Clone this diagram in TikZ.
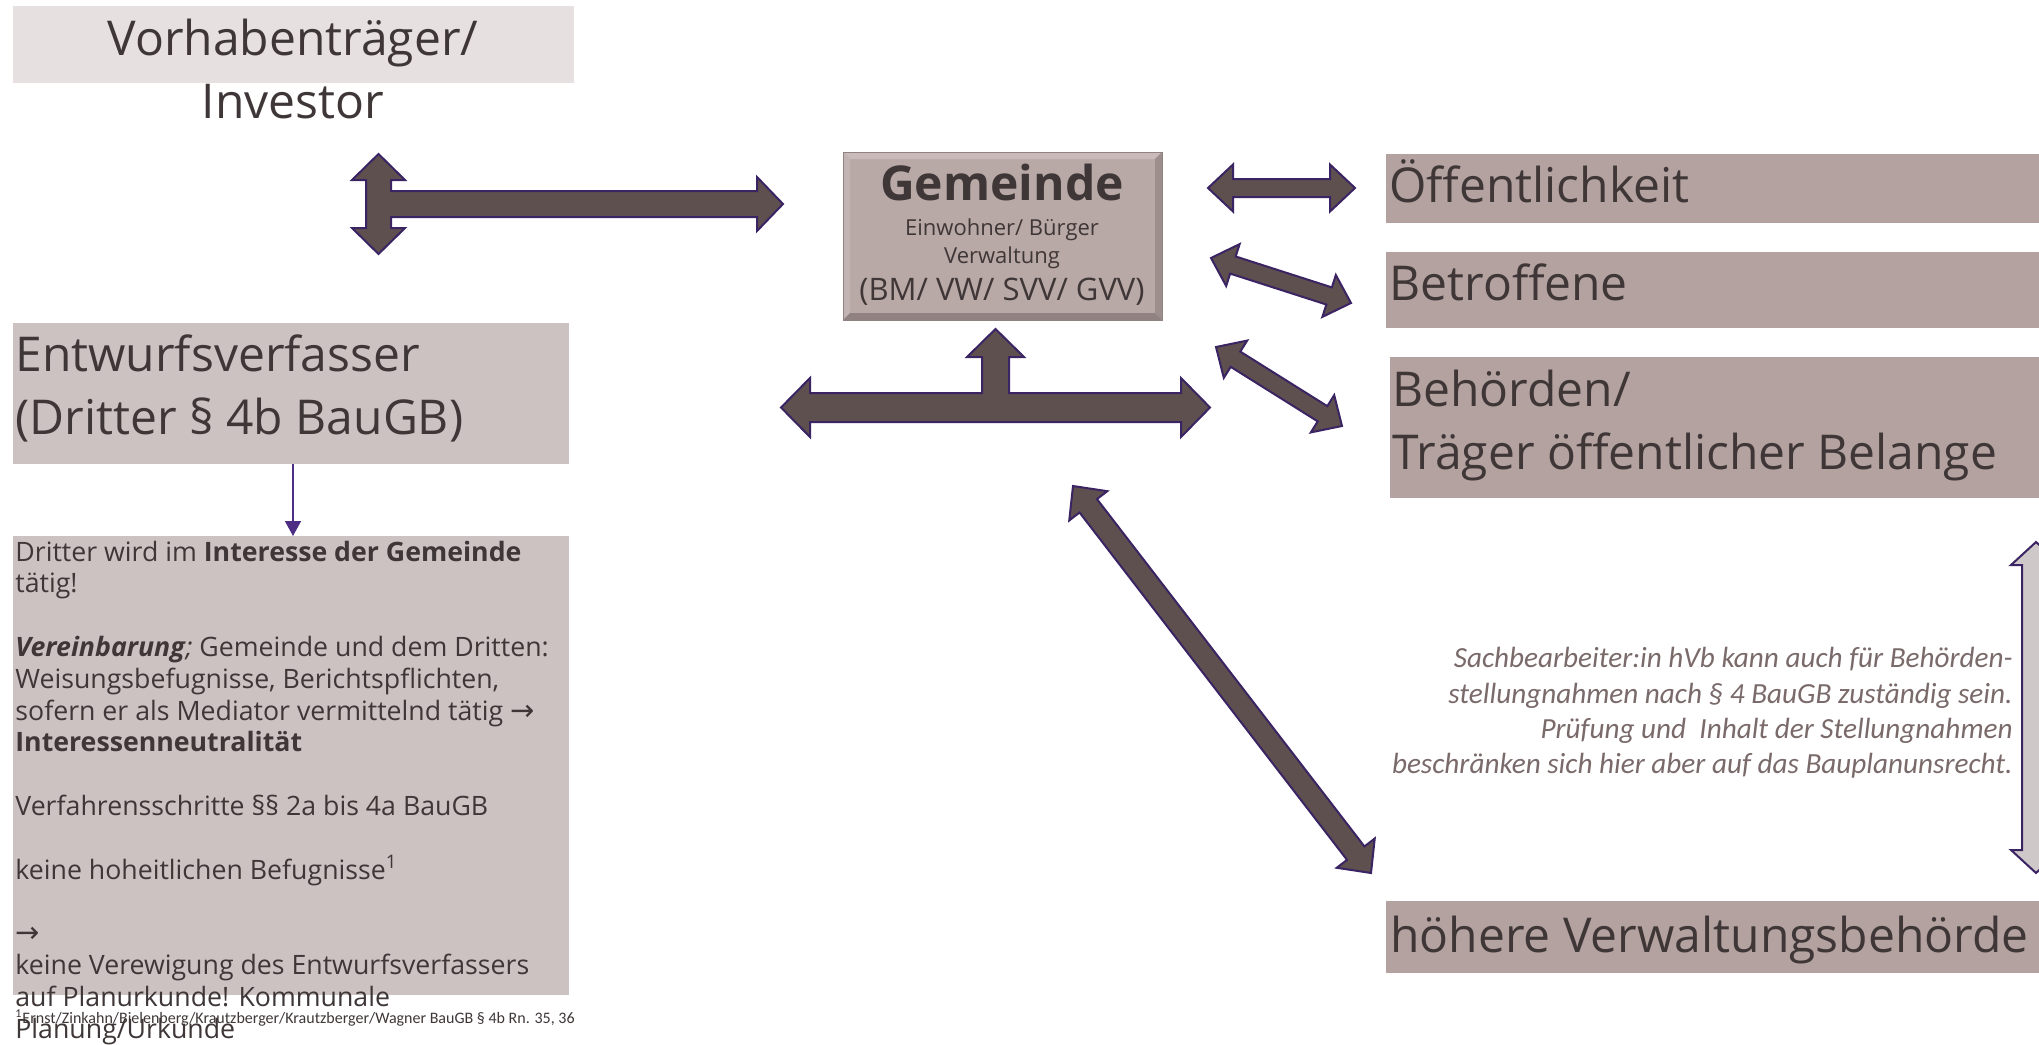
\documentclass[tikz,border=0pt]{standalone}
\usepackage{fontspec}
\setmainfont{Open Sans}
\newfontfamily\carlito{Carlito}
\newfontfamily\dejavu{DejaVu Sans}
\usetikzlibrary{calc,fit,arrows.meta}
\definecolor{txt}{HTML}{3F3737}
\definecolor{boxA}{HTML}{E6E0E0}
\definecolor{boxB}{HTML}{CCC2C1}
\definecolor{boxC}{HTML}{B3A29F}
\definecolor{gem}{HTML}{B8A8A6}
\definecolor{gemlt}{HTML}{C9BBB9}
\definecolor{gemlt2}{HTML}{C2B4B2}
\definecolor{gemdk}{HTML}{8F8280}
\definecolor{gemdk2}{HTML}{9C8E8C}
\definecolor{arrfill}{HTML}{5E504E}
\definecolor{arrline}{HTML}{3A2463}
\definecolor{thinarr}{HTML}{4E2D84}
\definecolor{ital}{HTML}{7A6A6A}
\definecolor{lightarr}{HTML}{CFC8C8}
\tikzset{
 panel/.style={inner sep=0pt, outer sep=0pt, draw=none},
 bigtxt/.style={inner sep=0pt, text=txt, font=\fontsize{24pt}{31.5pt}\selectfont},
 gemtxt/.style={inner sep=0pt, text=txt, anchor=base},
 bodytxt/.style={inner sep=0pt, text=txt, font=\fontsize{13.35pt}{15.9pt}\selectfont, anchor=base west},
 itxt/.style={inner sep=0pt, text=ital, font=\carlito\itshape\fontsize{14.6pt}{17.5pt}\selectfont, anchor=base east},
 barrow/.style={draw=arrline, fill=arrfill, line width=1pt, line join=miter},
 larrow/.style={draw=arrline, fill=lightarr, line width=1pt, line join=miter},
 thinline/.style={draw=thinarr, line width=0.8pt, -{Triangle[length=7.5pt,width=8pt]}},
}
\newcommand{\blockarrow}[6][barrow]{%
 \path[#1] let \p1=(#2), \p2=(#3), \n1={veclen(\x2-\x1,\y2-\y1)}, \n2={atan2(\y2-\y1,\x2-\x1)} in
  (\p1)
  -- ($(\p1)+(\n2:#6)+({\n2+90}:#5)$)
  -- ($(\p1)+(\n2:#6)+({\n2+90}:#4)$)
  -- ($(\p1)+({\n2}:{\n1-#6})+({\n2+90}:#4)$)
  -- ($(\p1)+({\n2}:{\n1-#6})+({\n2+90}:#5)$)
  -- (\p2)
  -- ($(\p1)+({\n2}:{\n1-#6})+({\n2-90}:#5)$)
  -- ($(\p1)+({\n2}:{\n1-#6})+({\n2-90}:#4)$)
  -- ($(\p1)+(\n2:#6)+({\n2-90}:#4)$)
  -- ($(\p1)+(\n2:#6)+({\n2-90}:#5)$)
  -- cycle;
}
\begin{document}
\begin{tikzpicture}[x=0.5pt,y=-0.5pt]
\useasboundingbox[fill=white] (0,0) rectangle (2039,1044);

% panels
\node[panel, fill=boxA, fit={(13,6) (574,83)}] (vorh) {};
\node[panel, fill=boxB, fit={(13,323) (569,464)}] (entw) {};
\node[panel, fill=boxB, fit={(13,536) (569,995)}] (dritt) {};
\node[panel, fill=boxC, fit={(1386,154) (2039,223)}] (oeff) {};
\node[panel, fill=boxC, fit={(1386,252) (2039,328)}] (betr) {};
\node[panel, fill=boxC, fit={(1390,357) (2039,498)}] (behoe) {};
\node[panel, fill=boxC, fit={(1386,901) (2039,973)}] (hvb) {};

% Gemeinde bevel box
\node[panel, fill=gem, fit={(843,152) (1162,320)}] (gem) {};
\fill[gemlt] (843,152) -- (1162,152) -- (1155,159) -- (850,159) -- cycle;
\fill[gemlt2] (843,152) -- (850,159) -- (850,313) -- (843,320) -- cycle;
\fill[gemdk] (843,320) -- (1162,320) -- (1155,313) -- (850,313) -- cycle;
\fill[gemdk2] (1162,152) -- (1162,320) -- (1155,313) -- (1155,159) -- cycle;
\draw[gemdk, line width=0.4pt] (gem.north west) rectangle (gem.south east);

% texts
\node[bigtxt, anchor=base] (vorhA) at (293,55) {Vorhabenträger/};
\node[bigtxt, anchor=base] (vorhB) at (293,118) {Investor};
\node[bigtxt, anchor=base west] (entwA) at (15,371) {Entwurfsverfasser};
\node[bigtxt, anchor=base west] (entwB) at (15,434) {(Dritter § 4b BauGB)};
\node[bigtxt, anchor=base west] (oeffT) at (1389,202) {Öffentlichkeit};
\node[bigtxt, anchor=base west] (betrT) at (1389,300) {Betroffene};
\node[bigtxt, anchor=base west] (behA) at (1392,406) {Behörden/};
\node[bigtxt, anchor=base west] (behB) at (1392,469) {Träger öffentlicher Belange};
\node[bigtxt, anchor=base west] (hvbT) at (1390,952) {höhere Verwaltungsbehörde};

\node[gemtxt, font=\bfseries\fontsize{24pt}{28pt}\selectfont] (gemA) at (1002,200) {Gemeinde};
\node[gemtxt, font=\fontsize{11pt}{13pt}\selectfont] (gemB) at (1002,235) {Einwohner/ Bürger};
\node[gemtxt, font=\fontsize{11pt}{13pt}\selectfont] (gemC) at (1002,263) {Verwaltung};
\node[gemtxt, font=\fontsize{15.5pt}{18pt}\selectfont] (gemD) at (1002,300) {(BM/ VW/ SVV/ GVV)};

\node[bodytxt] (b1) at (15,561) {Dritter wird im \textbf{Interesse der Gemeinde}};
\node[bodytxt] (b2) at (15,592.8) {tätig!};
\node[bodytxt] (b3) at (15,656.4) {\textbf{\textit{Vereinbarung}}\textit{;} Gemeinde und dem Dritten:};
\node[bodytxt] (b4) at (15,688.2) {Weisungsbefugnisse, Berichtspflichten,};
\node[bodytxt] (b5) at (15,720) {sofern er als Mediator vermittelnd tätig {\dejavu\fontsize{14.5pt}{14pt}\selectfont →}};
\node[bodytxt] (b6) at (15,751.8) {\textbf{Interessenneutralität}};
\node[bodytxt] (b7) at (15,815.4) {Verfahrensschritte §§ 2a bis 4a BauGB};
\node[bodytxt] (b8) at (15,879) {keine hoheitlichen Befugnisse\textsuperscript{1}};
\node[bodytxt] (b9) at (15,942.6) {{\dejavu\fontsize{14.5pt}{14pt}\selectfont →}};
\node[bodytxt] (b10) at (15,974.4) {keine Verewigung des Entwurfsverfassers};
\node[bodytxt] (b11) at (15,1006.2) {auf Planurkunde! Kommunale};
\node[bodytxt] (b12) at (15,1038) {Planung/Urkunde};
\node[inner sep=0pt, text=txt, font=\carlito\fontsize{8pt}{9pt}\selectfont, anchor=base west] (fn) at (15,1023) {\textsuperscript{1}Ernst/Zinkahn/Bielenberg/Krautzberger/Krautzberger/Wagner BauGB § 4b Rn. 35, 36};

\node[itxt] (i1) at (2013,667) {Sachbearbeiter:in hVb kann auch für Behörden-};
\node[itxt] (i2) at (2013,703) {stellungnahmen nach § 4 BauGB zuständig sein.};
\node[itxt] (i3) at (2013,738) {Prüfung und \ Inhalt der Stellungnahmen};
\node[itxt] (i4) at (2013,773) {beschränken sich hier aber auf das Bauplanunsrecht.};

% thin arrow
\draw[thinline] ([xshift=1pt]entw.south) -- ([xshift=1pt]dritt.north);

% T arrow upper
\draw[barrow] (378.5,154) -- (405,180) -- (391,180) -- (391,191) -- (757,191) -- (757,177) -- (783,204) -- (757,231) -- (757,217) -- (391,217) -- (391,228) -- (405,228) -- (378.5,254) -- (352,228) -- (366,228) -- (366,180) -- (352,180) -- cycle;

% T arrow lower
\draw[barrow] (781,407.5) -- (810,378) -- (810,393) -- (982,393) -- (982,357) -- (967,357) -- (995.5,329) -- (1024,357) -- (1009,357) -- (1009,393) -- (1181,393) -- (1181,378) -- (1210,407.5) -- (1181,437) -- (1181,422) -- (810,422) -- (810,437) -- cycle;

% double block arrows
\coordinate (oA) at (1208,188); \coordinate (oB) at (1355,188);
\blockarrow{oA}{oB}{4.5pt}{11.75pt}{12.5pt}
\coordinate (bA) at (1211,258); \coordinate (bB) at (1351,303);
\blockarrow{bA}{bB}{4.5pt}{11pt}{11.5pt}
\coordinate (cA) at (1216,347); \coordinate (cB) at (1342,426);
\blockarrow{cA}{cB}{4.5pt}{11pt}{11.5pt}
\coordinate (dA) at (1073,486); \coordinate (dB) at (1371,873);
\blockarrow{dA}{dB}{5.5pt}{12pt}{12.5pt}
\coordinate (eA) at (2036,542); \coordinate (eB) at (2036,873);
\blockarrow[larrow]{eA}{eB}{7pt}{12.5pt}{11.5pt}
\end{tikzpicture}
\end{document}
